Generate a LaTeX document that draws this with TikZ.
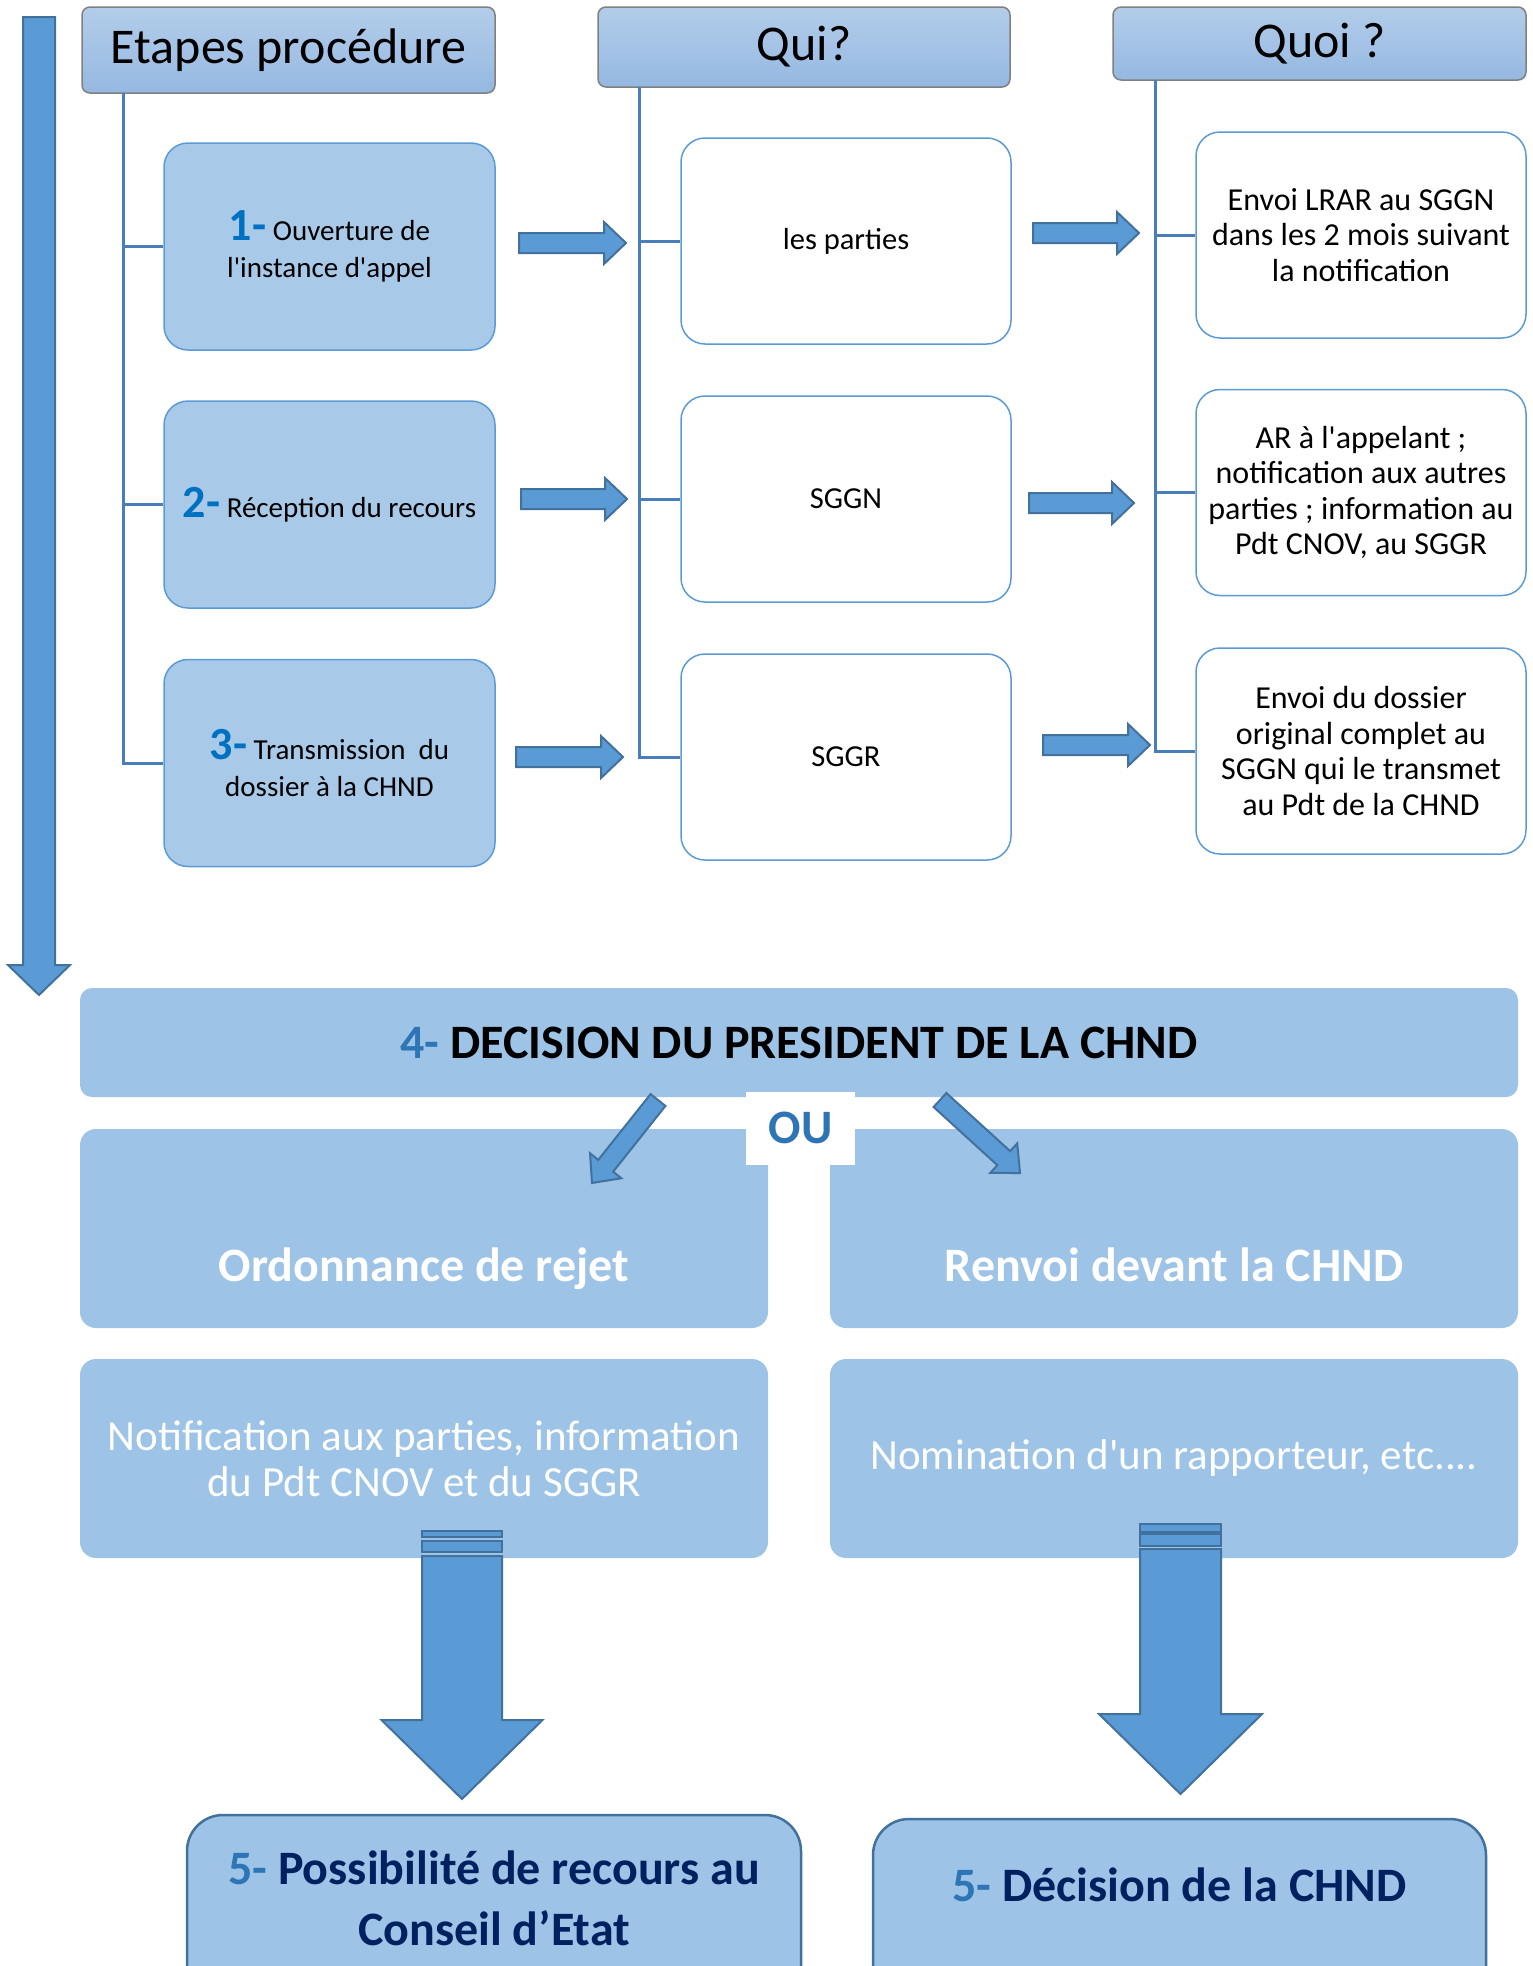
\documentclass[tikz,border=0pt]{standalone}
\usepackage{fontspec}
\setmainfont{Carlito}
\usepackage{tikz}
\usetikzlibrary{calc}
\definecolor{hdrtop}{RGB}{179,205,234}
\definecolor{hdrbot}{RGB}{149,184,225}
\definecolor{stepfill}{RGB}{168,201,232}
\definecolor{boxline}{RGB}{91,155,213}
\definecolor{spine}{RGB}{74,126,187}
\definecolor{arrfill}{RGB}{91,155,213}
\definecolor{arrline}{RGB}{65,113,156}
\definecolor{panelblue}{RGB}{157,195,230}
\definecolor{numblue}{RGB}{0,112,192}
\definecolor{midblue}{RGB}{46,117,182}
\definecolor{navy}{RGB}{0,32,96}
\newcommand{\bigbold}{\fontsize{48}{61}\selectfont\bfseries}
\newcommand{\stepnum}{\fontsize{46}{36}\selectfont\bfseries\color{numblue}}
\newcommand{\sq}{\textquotesingle}
\tikzstyle{hdr}=[rectangle,rounded corners=8pt,draw=black!50,line width=1.5pt,top color=hdrtop,bottom color=hdrbot,inner sep=0pt,font=\fontsize{50}{58}\selectfont]
\tikzstyle{stepbox}=[rectangle,rounded corners=24pt,draw=boxline,line width=1.5pt,fill=stepfill,minimum width=331pt,minimum height=207pt,inner sep=0pt,align=center,font=\fontsize{29}{37}\selectfont]
\tikzstyle{whobox}=[rectangle,rounded corners=24pt,draw=boxline,line width=1.5pt,fill=white,minimum width=330pt,minimum height=206pt,inner sep=0pt,align=center,font=\fontsize{30.5}{36}\selectfont]
\tikzstyle{whatbox}=[rectangle,rounded corners=24pt,draw=boxline,line width=1.5pt,fill=white,minimum width=330pt,minimum height=206pt,inner sep=0pt,align=center,font=\fontsize{32}{35.5}\selectfont]
\tikzstyle{conn}=[draw=spine,line width=3pt]
\tikzstyle{fatarr}=[fill=arrfill,draw=arrline,line width=2pt,line join=miter]
\tikzstyle{panel}=[rectangle,rounded corners=16pt,fill=panelblue,minimum width=688pt,minimum height=199pt,inner sep=0pt]
\tikzstyle{outcome}=[text=white,font=\bigbold,text height=34pt,text depth=10pt,yshift=-40.5pt]
\tikzstyle{result}=[rectangle,rounded corners=36pt,draw=arrline,line width=2.5pt,fill=panelblue,minimum width=614pt,inner sep=0pt]
\tikzstyle{resulttxt}=[text=navy,font=\bigbold,align=center]
% block arrow: tail, tip, half shaft, half head, head length
\newcommand{\fatarrow}[5]{%
  \coordinate (fab) at ($(#2)!#5!(#1)$);
  \filldraw[fatarr] ($(#1)!#3!90:(#2)$) -- ($(fab)!#3!-90:(#1)$) -- ($(fab)!#4!-90:(#1)$)
    -- (#2) -- ($(fab)!#4!90:(#1)$) -- ($(fab)!#3!90:(#1)$) -- ($(#1)!#3!-90:(#2)$) -- cycle;}
\begin{document}
\begin{tikzpicture}[x=1pt,y=-1pt]
        \useasboundingbox (0,0) rectangle (1533,1966);
        \clip (0,0) rectangle (1533,1966);

        % column heads
        \node at (288.5,50) [hdr,minimum width=413pt,minimum height=86pt] (etapes) {Etapes procédure};
        \node at (804,47) [hdr,minimum width=412pt,minimum height=80pt] (qui) {Qui?};
        \node at (1319.5,43.5) [hdr,minimum width=413pt,minimum height=73pt] (quoi) {Quoi ?};

        \node at (329.5,246.5) [stepbox] (step1) {{\stepnum 1-} Ouverture de\\l\sq instance d\sq appel};
        \node at (329.5,504.5) [stepbox] (step2) {{\stepnum 2-} Réception du recours};
        \node at (329.5,763)   [stepbox] (step3) {{\stepnum 3-} Transmission~~du\\dossier à la CHND};

        \node at (846,241) [whobox] (who1) {les parties};
        \node at (846,499) [whobox] (who2) {SGGN};
        \node at (846,757) [whobox] (who3) {SGGR};

        \node at (1361,235)   [whatbox] (what1) {Envoi LRAR au SGGN\\dans les 2 mois suivant\\la notification};
        \node at (1361,492.5) [whatbox] (what2) {AR à l\sq appelant ;\\notification aux autres\\parties ; information au\\Pdt CNOV, au SGGR};
        \node at (1361,751)   [whatbox] (what3) {Envoi du dossier\\original complet au\\SGGN qui le transmet\\au Pdt de la CHND};

        \coordinate (spineL) at (123,93);
        \coordinate (spineM) at (639,87);
        \coordinate (spineR) at (1155,80);
        \draw [conn] (spineL) |- (step3.west);
        \draw [conn] (spineM) |- (who3.west);
        \draw [conn] (spineR) |- (what3.west);
        \foreach \n in {1,2} {
          \draw [conn] (step\n.west) -- (step\n.west -| spineL);
          \draw [conn] (who\n.west) -- (who\n.west -| spineM);
          \draw [conn] (what\n.west) -- (what\n.west -| spineR);
        }

        \foreach \tx/\ty/\hx/\hy [count=\i] in {519/243/626/243,1033/233/1139/233,521/499/627/499,1029/503/1134/503,516/757/623/757,1043/745/1150/745} {
          \coordinate (rt\i) at (\tx,\ty);
          \coordinate (rh\i) at (\hx,\hy);
          \fatarrow{rt\i}{rh\i}{10pt}{21pt}{22pt}
        }

        % time line
        \coordinate (flowt) at (39,17);
        \coordinate (flowh) at (39,995);
        \fatarrow{flowt}{flowh}{16pt}{31pt}{30pt}

        % decision
        \node at (799,1042.5) [panel,minimum width=1438pt,minimum height=109pt,rounded corners=12pt,font=\bigbold] (decision) {{\color{midblue}4-} DECISION DU PRESIDENT DE LA CHND};
        \node at (424,1228.5) [panel,label={[outcome]center:Ordonnance de rejet}] (rejet) {};
        \node at (1174,1228.5) [panel,label={[outcome]center:Renvoi devant la CHND}] (renvoi) {};
        \node at (424,1458.5) [panel,text=white,align=center,font=\fontsize{43}{46}\selectfont] (notif) {Notification aux parties, information\\du Pdt CNOV et du SGGR};
        \node at (1174,1458.5) [panel,text=white,font=\fontsize{43}{46}\selectfont] (nomin) {Nomination d\sq un rapporteur, etc....};
        \node at (800.5,1128) [rectangle,fill=white,minimum width=109pt,minimum height=73pt,text=midblue,font=\bigbold] (ou) {OU};

        \coordinate (dlt) at (658,1100);
        \coordinate (dlh) at (592,1183);
        \coordinate (drt) at (940,1100);
        \coordinate (drh) at (1020,1173);
        \fatarrow{dlt}{dlh}{9.5pt}{20pt}{22pt}
        \fatarrow{drt}{drh}{9.5pt}{20pt}{22pt}

        % striped arrows
        \filldraw [fatarr] (422,1531) rectangle (502,1537);
        \filldraw [fatarr] (422,1541) rectangle (502,1552);
        \coordinate (dnLt) at (462,1556);
        \coordinate (dnLh) at (462,1799);
        \fatarrow{dnLt}{dnLh}{40pt}{80.5pt}{79pt}
        \filldraw [fatarr] (1140,1524) rectangle (1221,1532);
        \filldraw [fatarr] (1140,1534) rectangle (1221,1546);
        \coordinate (dnRt) at (1180.5,1549);
        \coordinate (dnRh) at (1180.5,1794);
        \fatarrow{dnRt}{dnRh}{40.5pt}{81.5pt}{80pt}

        \node at (494,1912.5) [result,minimum height=195pt,label={[resulttxt,yshift=14pt]center:{\color{midblue}5-} Possibilité de recours au\\Conseil d’Etat}] (recours) {};
        \node at (1179.5,1914.5) [result,minimum width=613pt,minimum height=191pt,label={[resulttxt,yshift=30pt]center:{\color{midblue}5-} Décision de la CHND}] (chnd) {};
      \end{tikzpicture}
\end{document}
